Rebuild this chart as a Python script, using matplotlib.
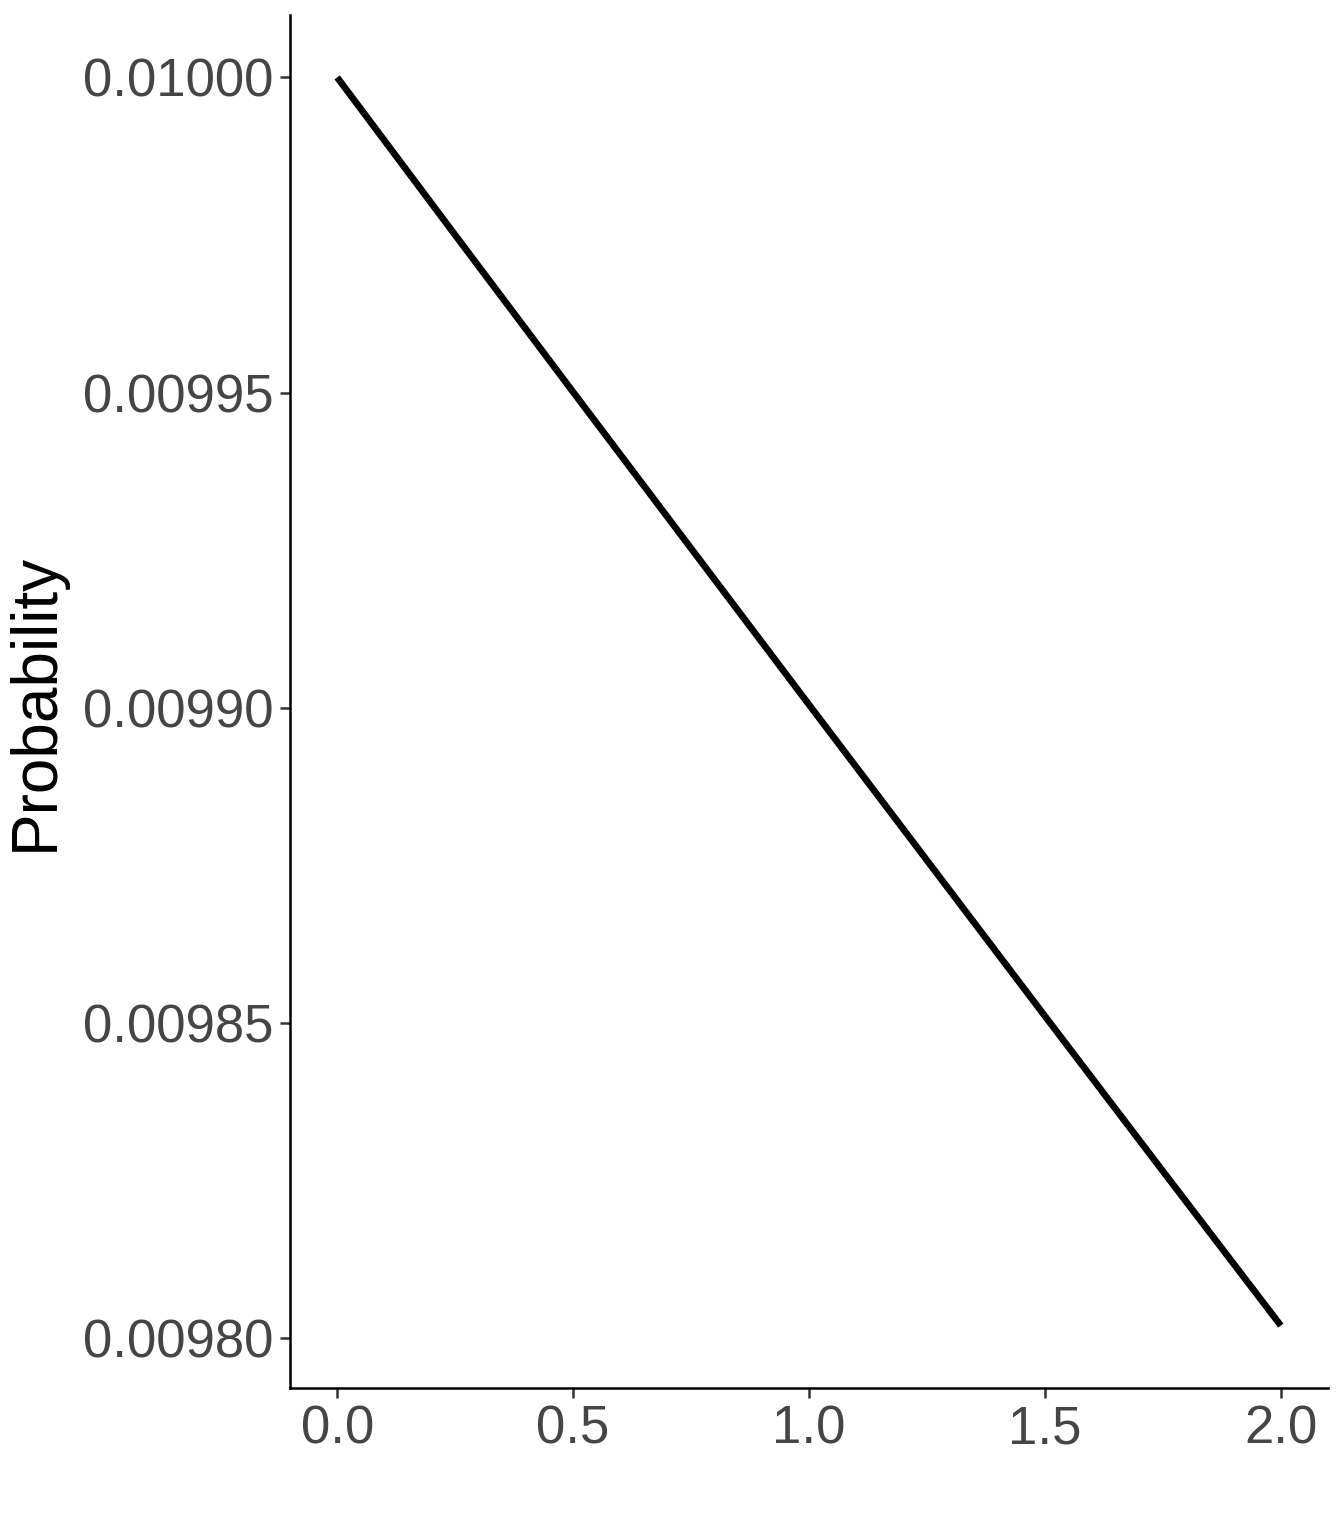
import matplotlib
matplotlib.use("Agg")
import matplotlib.pyplot as plt

x_vals = [0.0, 0.25, 0.5, 0.75, 1.0, 1.25, 1.5, 1.75, 2.0]
prob_vals = [0.0100000, 0.0099750, 0.0099501, 0.0099253, 0.0099005,
             0.0098758, 0.0098511, 0.0098265, 0.0098020]
x_ticks = [0.0, 0.5, 1.0, 1.5, 2.0]
x_tick_labels = ["0.0", "0.5", "1.0", "1.5", "2.0"]
y_ticks = [0.00980, 0.00985, 0.00990, 0.00995, 0.01000]
y_tick_labels = ["0.00980", "0.00985", "0.00990", "0.00995", "0.01000"]

plt.rcParams['font.family'] = ['Liberation Sans', 'DejaVu Sans']

fig = plt.figure(figsize=(13.44, 15.36), dpi=100)
ax = fig.add_axes([290/1344, 1 - 1388/1536, (1328-290)/1344, (1388-15)/1536])
ax.plot(x_vals, prob_vals, color='black', linewidth=4.8, solid_capstyle='butt')

ax.set_xlim(-0.1, 2.1)
ax.set_ylim(0.0097921, 0.0100099)
ax.set_xticks(x_ticks)
ax.set_xticklabels(x_tick_labels)
ax.set_yticks(y_ticks)
ax.set_yticklabels(y_tick_labels)

for s in ['top', 'right']:
    ax.spines[s].set_visible(False)
for s in ['left', 'bottom']:
    ax.spines[s].set_linewidth(1.8)
    ax.spines[s].set_color('black')

ax.tick_params(axis='both', length=7, width=1.8, color='#333333',
               labelcolor='#454545', labelsize=38, pad=5)
ax.set_ylabel("Probability", fontsize=46, color='black', labelpad=12)

fig.savefig("out.png", dpi=100, facecolor='white')
